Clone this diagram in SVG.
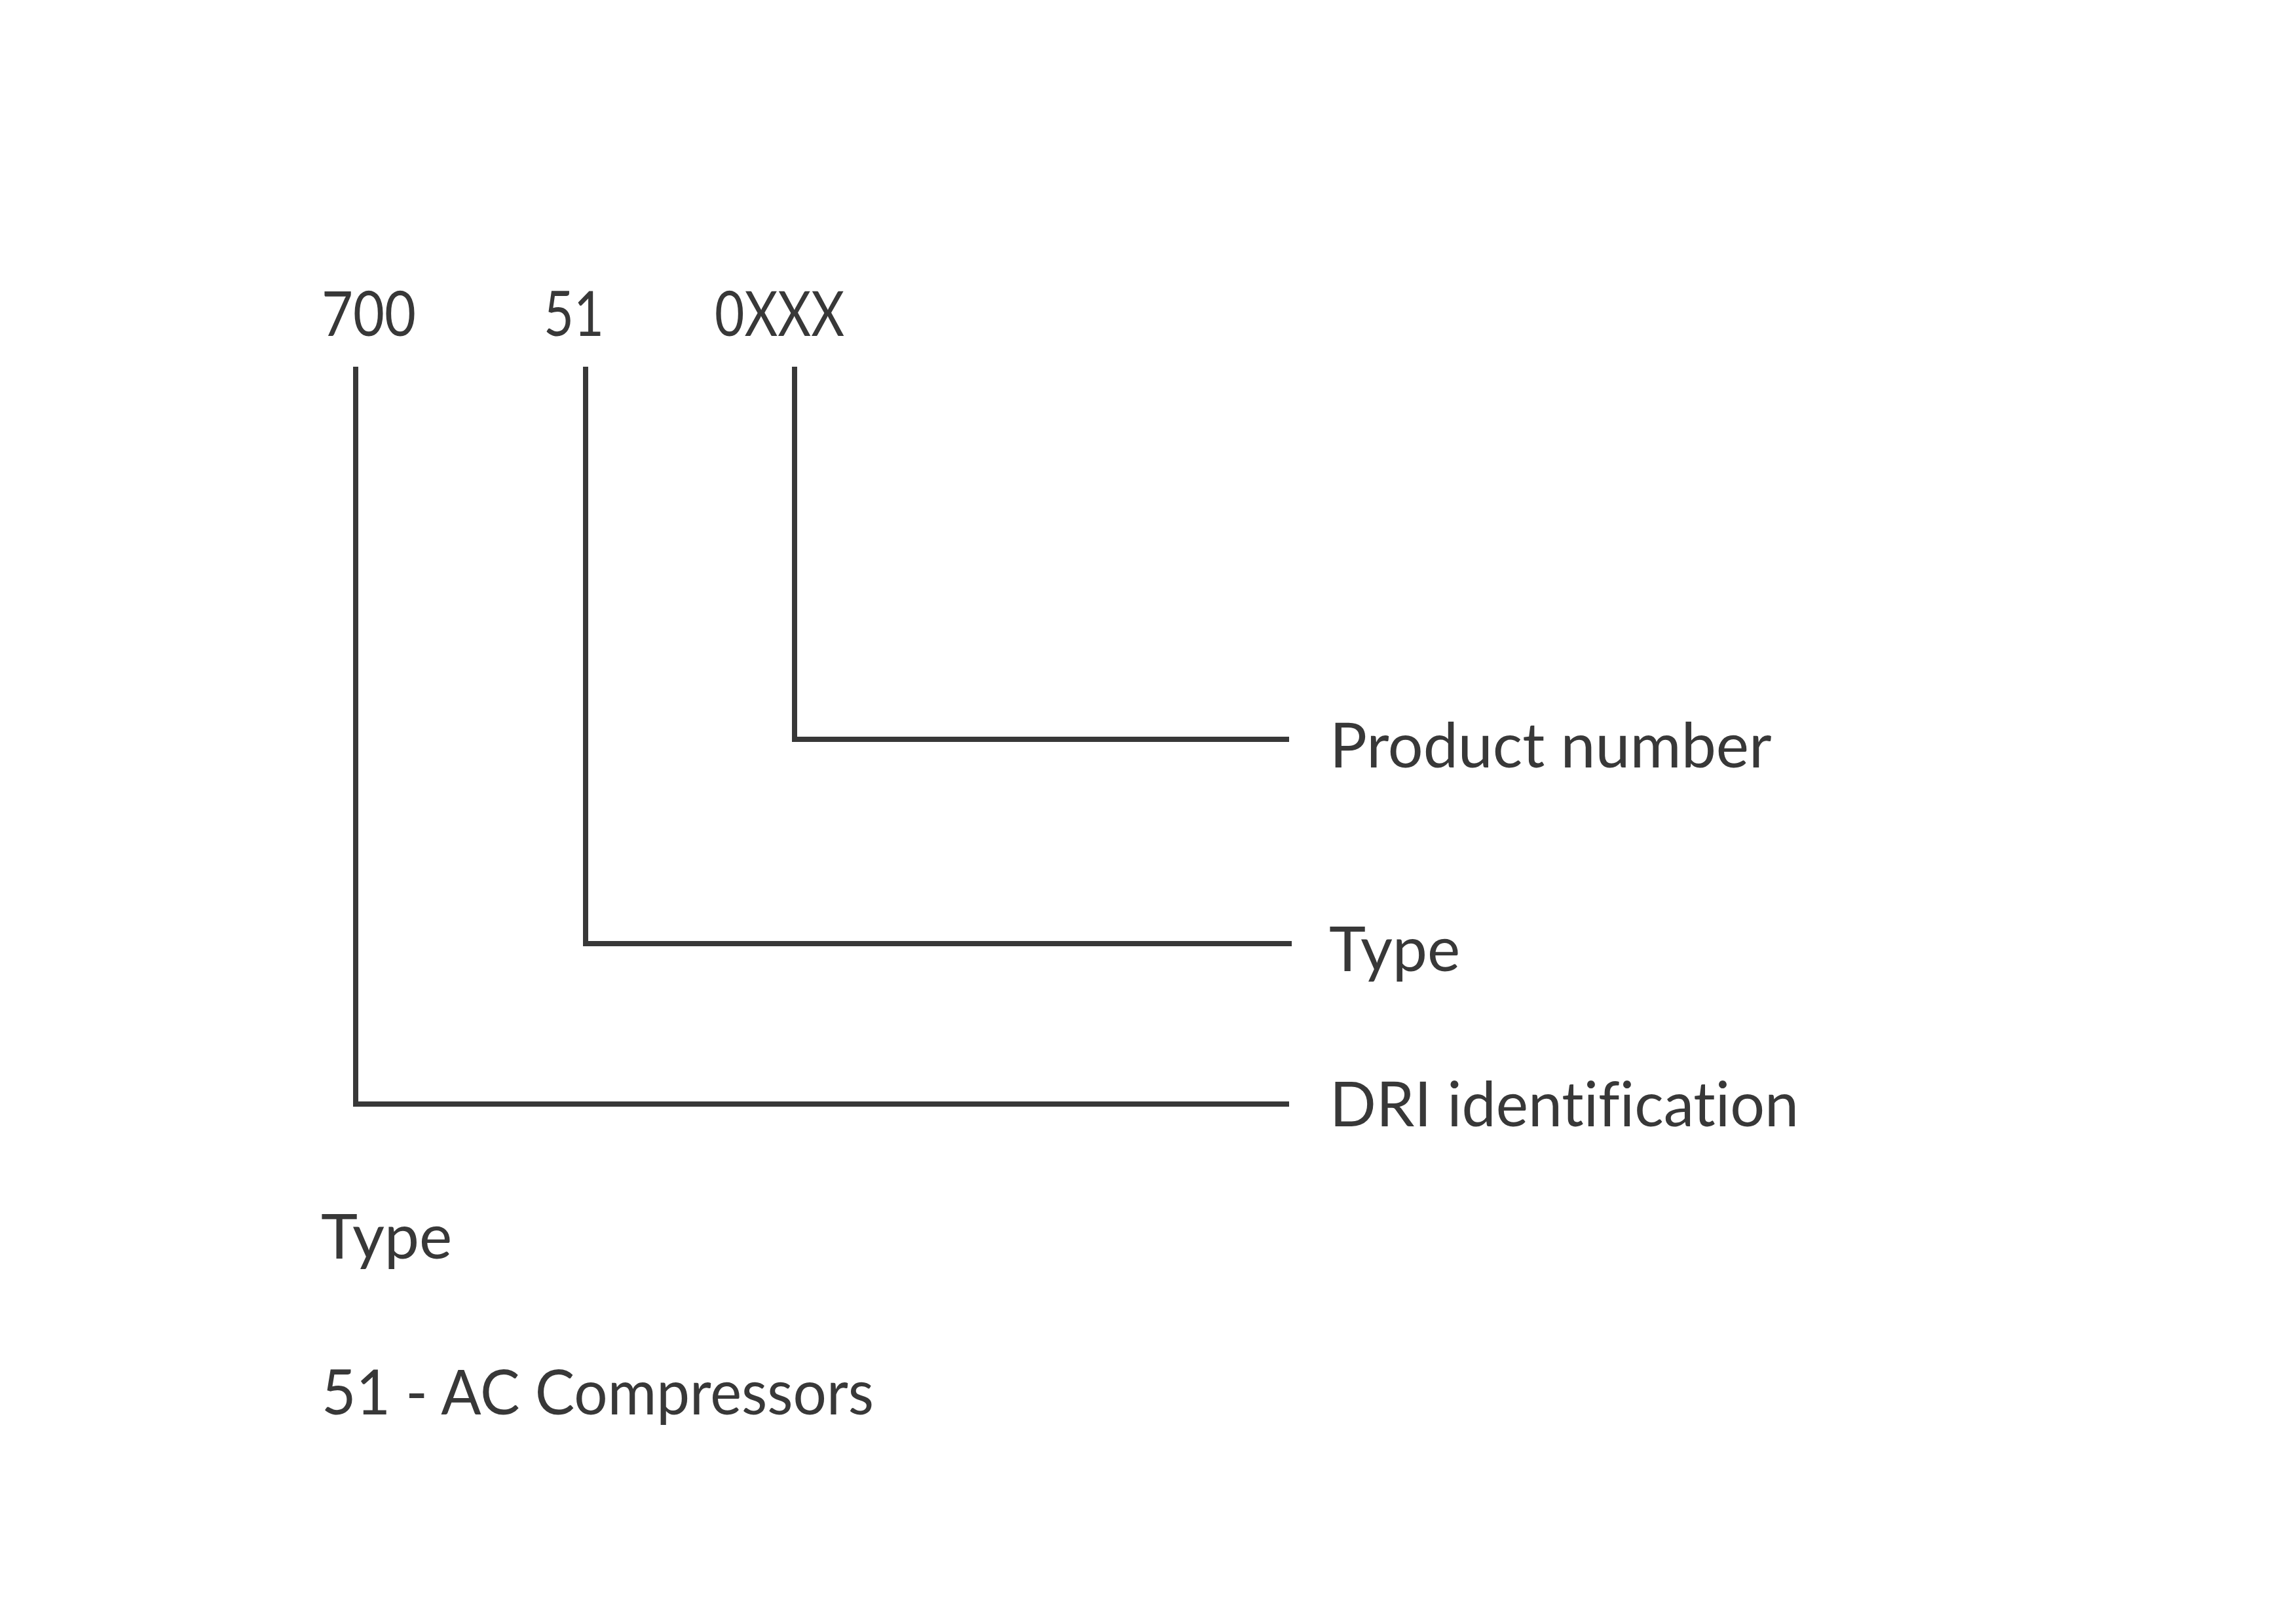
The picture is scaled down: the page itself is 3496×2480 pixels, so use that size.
<svg xmlns="http://www.w3.org/2000/svg" width="3496" height="2480" viewBox="0 0 3496 2480">
  <style>
    .t { font-family: Lato, "Liberation Sans", sans-serif; font-size: 95px; fill: #383838; font-variant-ligatures: none; font-feature-settings: "liga" 0, "clig" 0; }
    .c { fill: none; stroke: #383838; stroke-width: 8; stroke-linejoin: miter; stroke-linecap: butt; }
  </style>
  <rect width="3496" height="2480" fill="#ffffff"/>
  <g id="code-700"><text class="t" x="491" y="513" textLength="144" lengthAdjust="spacingAndGlyphs">700</text></g>
  <g id="code-51"><text class="t" x="830" y="513" textLength="92" lengthAdjust="spacingAndGlyphs">51</text></g>
  <g id="code-0XXX"><text class="t" x="1091" y="513" textLength="198" lengthAdjust="spacingAndGlyphs">0XXX</text></g>
  <g id="label-product"><text class="t" x="2030" y="1172">Product number</text></g>
  <g id="label-type"><text class="t" x="2029" y="1483">Type</text></g>
  <g id="label-dri"><text class="t" x="2030" y="1720" textLength="716" lengthAdjust="spacingAndGlyphs">DRI identification</text></g>
  <g id="legend">
    <text class="t" x="490" y="1922">Type</text>
    <text class="t" x="491" y="2160" textLength="843" lengthAdjust="spacingAndGlyphs">51 - AC Compressors</text>
  </g>
  <g id="connectors">
    <polyline class="c" points="1213,560 1213,1129 1968,1129"/>
    <polyline class="c" points="894,560 894,1441 1972,1441"/>
    <polyline class="c" points="543,560 543,1686 1968,1686"/>
  </g>
</svg>
